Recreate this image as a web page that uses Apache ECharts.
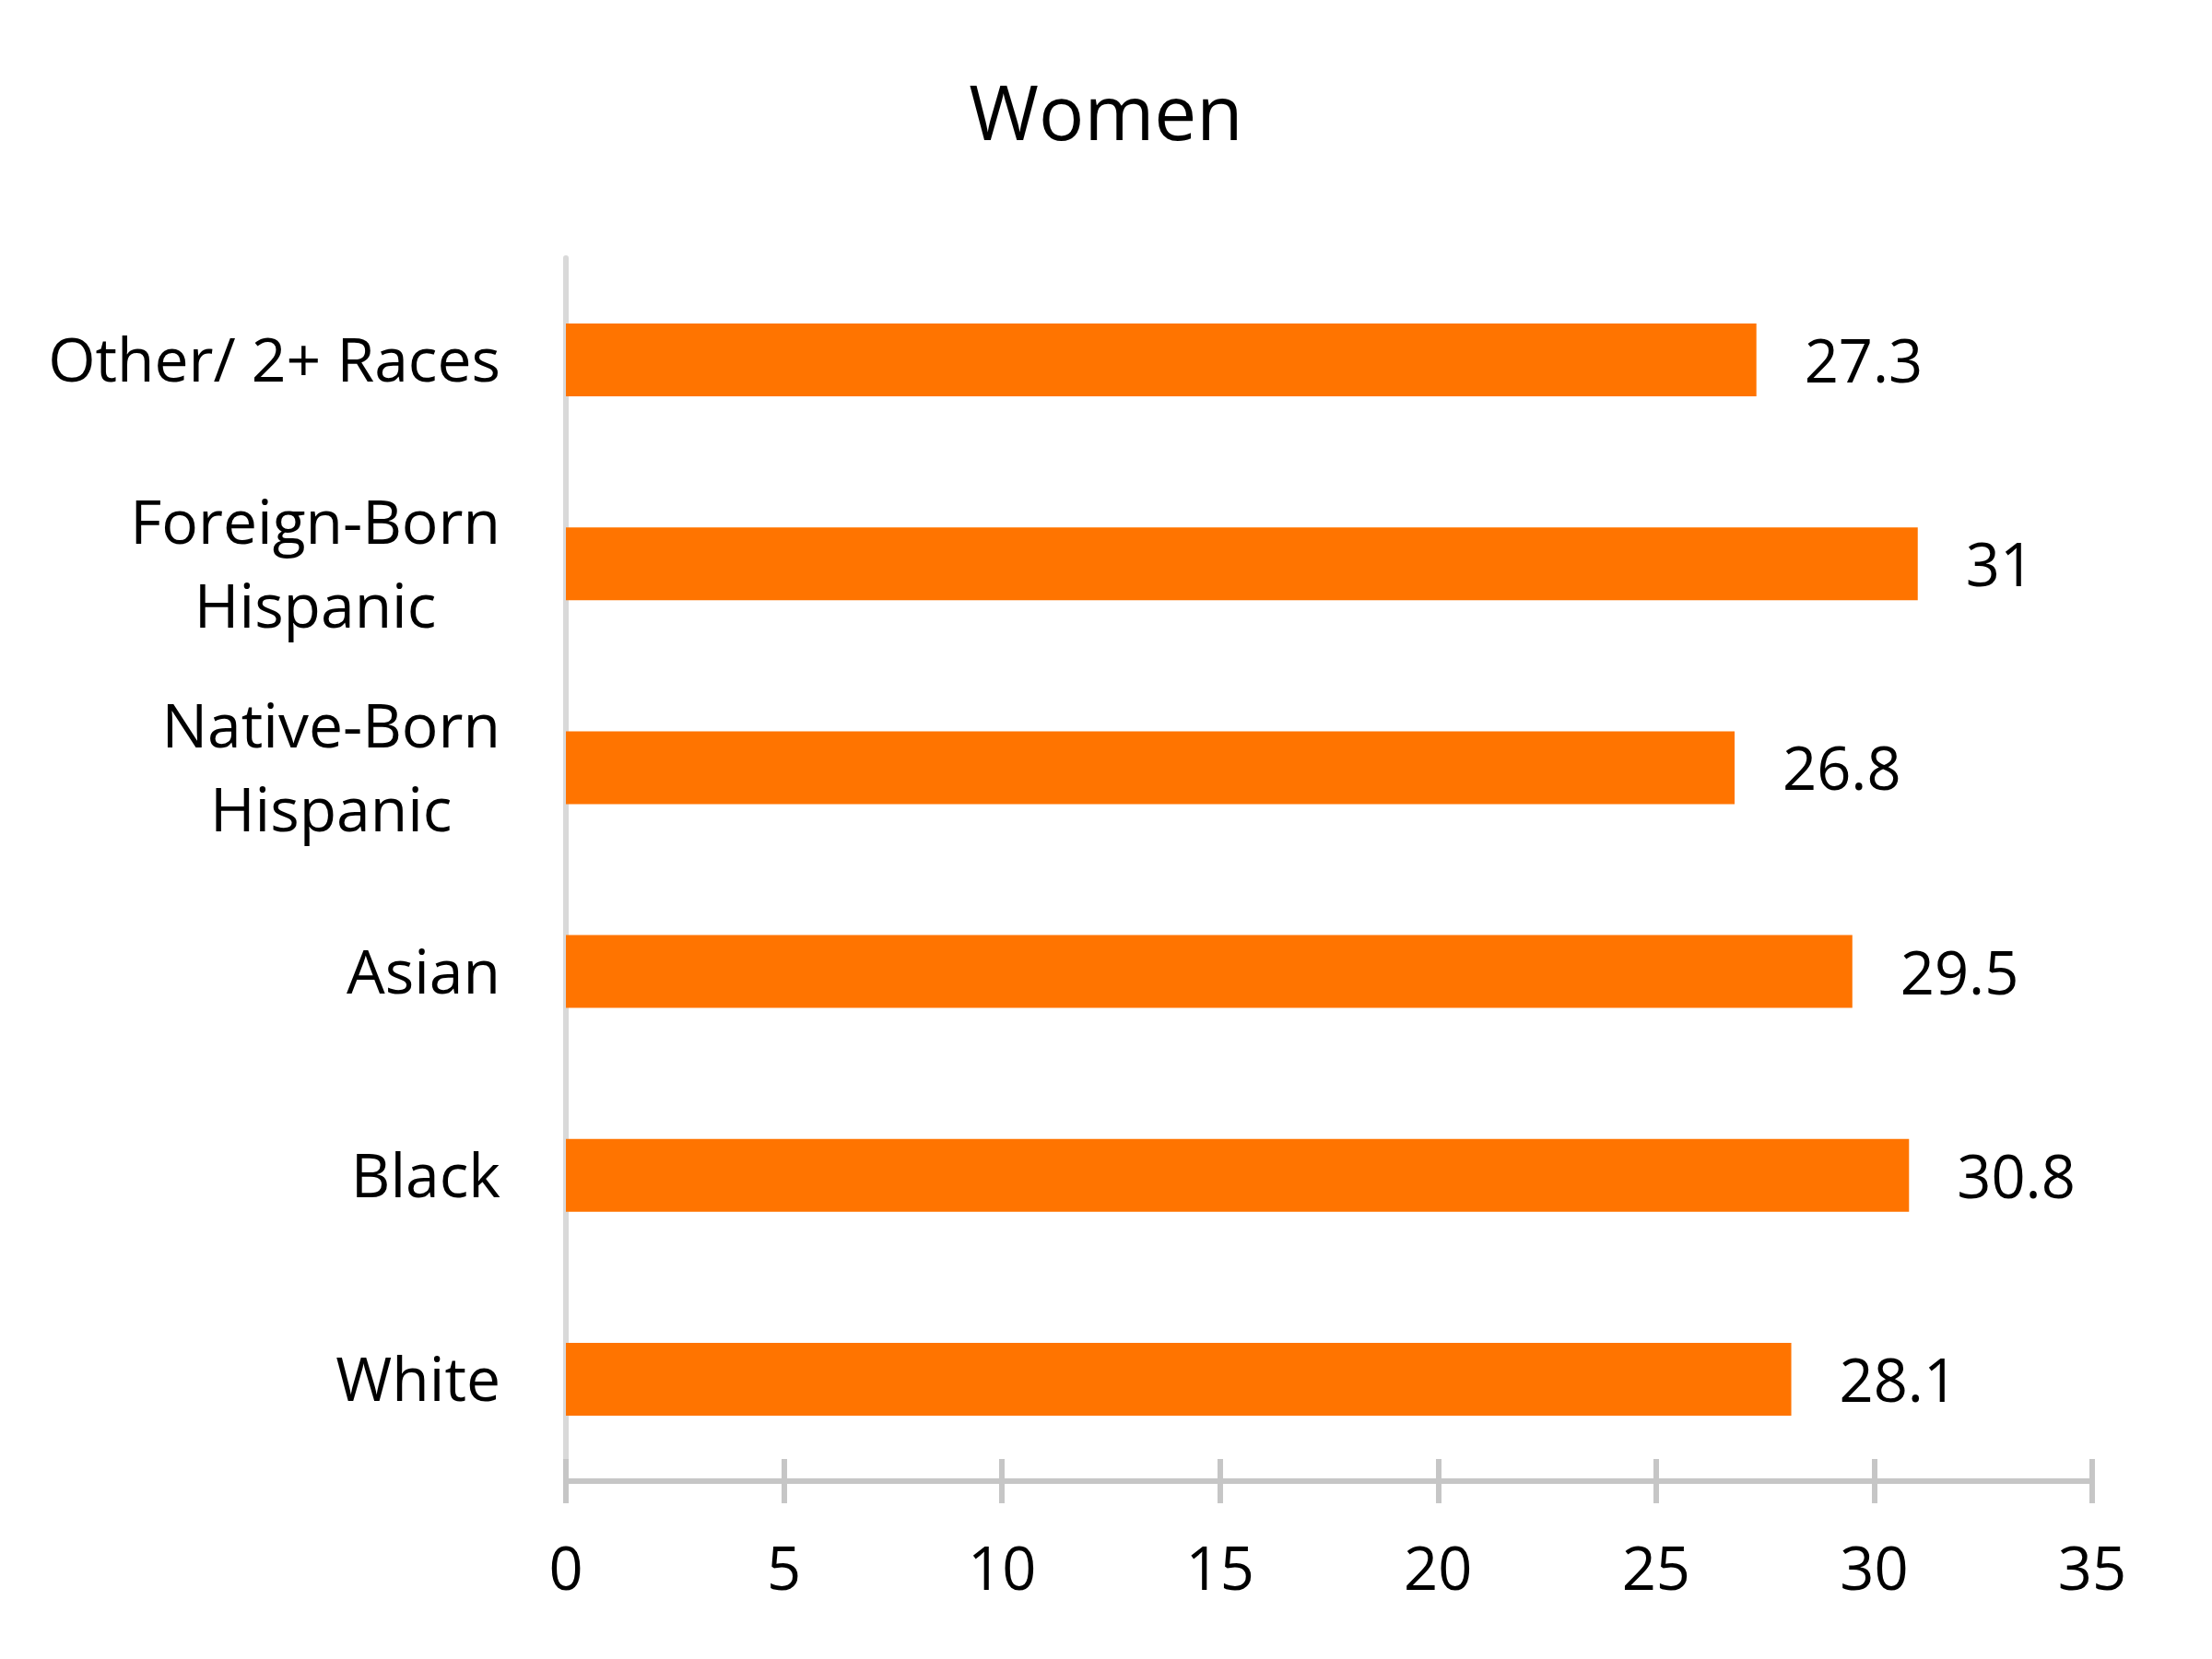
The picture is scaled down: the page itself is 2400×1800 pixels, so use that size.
<!DOCTYPE html>
<html>
<head>
<meta charset="utf-8">
<script src="https://cdn.jsdelivr.net/npm/echarts@6/dist/echarts.min.js"></script>
<style>
html,body{margin:0;padding:0;background:#fff;}
#chart{width:2400px;height:1800px;}
</style>
</head>
<body>
<div id="chart"></div>
<script>
// bottom-to-top order
const categories = ['White', 'Black', 'Asian', 'Native-Born\nHispanic', 'Foreign-Born\nHispanic', 'Other/ 2+ Races'];
const values = [28.1, 30.8, 29.5, 26.8, 31, 27.3];
const xTicks = [0, 5, 10, 15, 20, 25, 30, 35];
const titleText = 'Women';

const FONT = '"Open Sans", "Noto Sans", sans-serif';
const chart = echarts.init(document.getElementById('chart'), null, {renderer: 'canvas'});

chart.setOption({
  backgroundColor: '#ffffff',
  animation: false,
  title: {
    text: titleText,
    left: 'center',
    top: 83,
    textStyle: {fontFamily: FONT, fontSize: 82, fontWeight: 'normal', color: '#000'}
  },
  grid: {left: 614, right: 130, top: 280, bottom: 193, containLabel: false},
  xAxis: [{
    type: 'value',
    min: xTicks[0],
    max: xTicks[xTicks.length - 1],
    interval: 5,
    position: 'bottom',
    axisLine: {show: true, lineStyle: {color: '#c6c6c6', width: 6}},
    axisTick: {show: true, length: 24, lineStyle: {color: '#c6c6c6', width: 6}},
    axisLabel: {fontFamily: FONT, fontSize: 65, color: '#000', margin: 67},
    splitLine: {show: false}
  }, {
    type: 'value',
    min: xTicks[0],
    max: xTicks[xTicks.length - 1],
    interval: 5,
    position: 'bottom',
    offset: 0,
    axisLine: {show: false},
    axisTick: {show: true, inside: true, length: 24, lineStyle: {color: '#c6c6c6', width: 6}},
    axisLabel: {show: false},
    splitLine: {show: false}
  }],
  yAxis: {
    type: 'category',
    data: categories,
    axisLine: {show: true, lineStyle: {color: '#d9d9d9', width: 6}},
    axisTick: {show: false},
    axisLabel: {
      margin: 71,
      align: 'right',
      fontFamily: FONT,
      fontSize: 66,
      lineHeight: 91,
      padding: [10, 0, 0, 0],
      color: '#000',
      formatter: function (v) {
        return v.split('\n').map(function (s) { return '{c|' + s + '}'; }).join('\n');
      },
      rich: {
        c: {align: 'center', fontFamily: FONT, fontSize: 66, lineHeight: 91, color: '#000'}
      }
    },
    splitLine: {show: false}
  },
  series: [{
    type: 'bar',
    data: values,
    xAxisIndex: 0,
    barWidth: 79,
    itemStyle: {color: '#ff7400'},
    label: {
      show: true,
      position: 'right',
      distance: 52,
      offset: [0, 6],
      fontFamily: FONT,
      fontSize: 65,
      color: '#000'
    }
  }]
});
</script>
</body>
</html>
